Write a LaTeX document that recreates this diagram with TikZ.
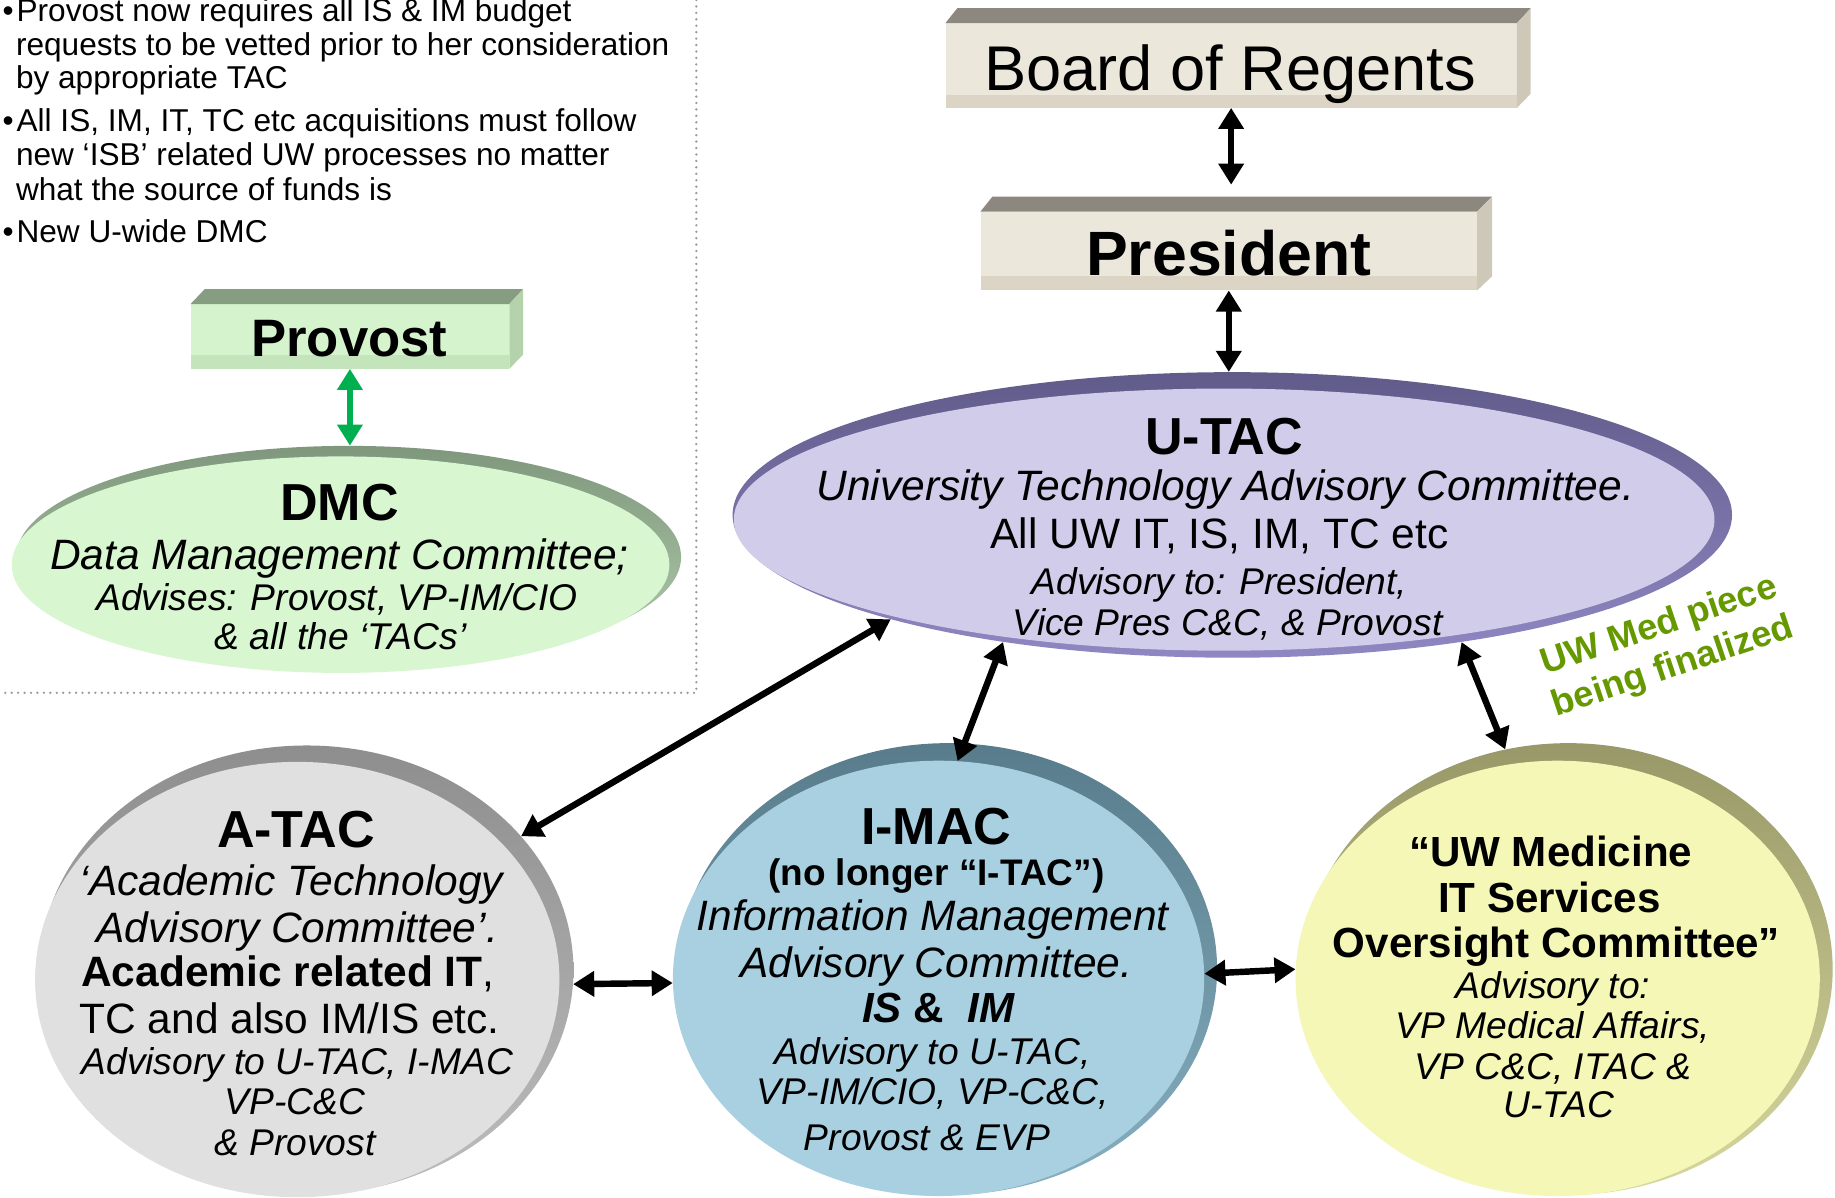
\documentclass[tikz,border=0pt]{standalone}
\usepackage{fontspec}
\setmainfont{Liberation Sans}
\usetikzlibrary{shapes.geometric,arrows.meta}
\definecolor{boxFront}{HTML}{ECE7DB}
\definecolor{boxTop}{HTML}{8C8880}
\definecolor{boxSide}{HTML}{CEC8B9}
\definecolor{boxStrip}{HTML}{DCD5C5}
\definecolor{provFront}{HTML}{D5F4CD}
\definecolor{provTop}{HTML}{879D82}
\definecolor{provSide}{HTML}{B4D3AC}
\definecolor{provStrip}{HTML}{C4E5BC}
\definecolor{dmcF}{HTML}{D8F6D0}
\definecolor{dmcRa}{HTML}{7F977C}
\definecolor{dmcRb}{HTML}{B4CCAE}
\definecolor{utacF}{HTML}{D1CCE9}
\definecolor{utacRa}{HTML}{615B8A}
\definecolor{utacRb}{HTML}{8E87C2}
\definecolor{atacF}{HTML}{E0E0E0}
\definecolor{atacRa}{HTML}{8E8E8E}
\definecolor{atacRb}{HTML}{BDBDBD}
\definecolor{imacF}{HTML}{A9D0E1}
\definecolor{imacRa}{HTML}{587C8B}
\definecolor{imacRb}{HTML}{86AFC0}
\definecolor{uwmF}{HTML}{F4F7B5}
\definecolor{uwmRa}{HTML}{989868}
\definecolor{uwmRb}{HTML}{D6D89E}
\definecolor{arrgreen}{HTML}{00B050}
\definecolor{medgreen}{HTML}{669900}
\definecolor{dotgrey}{HTML}{999999}
\begin{document}
\begin{tikzpicture}[x=1pt,y=-1pt,
 ell/.style={ellipse, inner sep=0pt, draw=none},
 tl/.style={inner sep=0pt, anchor=base},
 ttl/.style={tl, font=\fontsize{44.5}{50}\selectfont\bfseries},
 bi/.style={tl, font=\fontsize{36.3}{42}\selectfont\itshape},
 br/.style={tl, font=\fontsize{36.3}{42}\selectfont},
 bb/.style={tl, font=\fontsize{36}{42}\selectfont\bfseries},
 si/.style={tl, font=\fontsize{31.8}{36}\selectfont\itshape},
 sbd/.style={tl, font=\fontsize{31.6}{36}\selectfont\bfseries},
 blt/.style={inner sep=0pt, anchor=base west, font=\fontsize{27}{30}\selectfont},
 grn/.style={inner sep=0pt, align=center, text=medgreen, font=\fontsize{31}{37}\selectfont\bfseries, rotate=18.5},
 arr/.style={line width=5.5pt, {Triangle[length=18pt,width=21pt]}-{Triangle[length=18pt,width=21pt]}},
 garr/.style={line width=5.5pt, draw=arrgreen, {Triangle[length=18pt,width=21pt]}-{Triangle[length=18pt,width=21pt]}},
 dotline/.style={draw=dotgrey, line width=2.2pt, line cap=round, dash pattern=on 0pt off 5.5pt}]
\clip (0,0) rectangle (1568,1023);
\fill[white] (0,0) rectangle (1568,1023);

% dotted frame
\draw[dotline] (595,0) -- (595,592) -- (0,592);

% bullets
\node[blt] (b1d) at (2,18.5) {\textbullet};
\node[blt] (b1a) at (14,18.5) {Provost now requires all IS \& IM budget};
\node[blt] (b1b) at (13.5,47) {requests to be vetted prior to her consideration};
\node[blt] (b1c) at (13.5,76) {by appropriate TAC};
\node[blt] (b2d) at (2,112) {\textbullet};
\node[blt] (b2a) at (14,112) {All IS, IM, IT, TC etc acquisitions must follow};
\node[blt] (b2b) at (13.5,141) {new ‘ISB’ related UW processes no matter};
\node[blt] (b2c) at (13.5,171) {what the source of funds is};
\node[blt] (b3d) at (2,207.5) {\textbullet};
\node[blt] (b3a) at (14,207.5) {New U-wide DMC};

% Board of Regents box
\node[inner sep=0pt, minimum width=488, minimum height=72, fill=boxFront] (board) at (1052,56) {};
\fill[boxStrip] (808,81) rectangle (1296,92);
\fill[boxTop] (board.north west) -- (818,7) -- (1308,7) -- (board.north east) -- cycle;
\fill[boxSide] (board.north east) -- (1308,7) -- (1308,80) -- (board.south east) -- cycle;
\node[tl, font=\fontsize{54}{60}\selectfont] (boardT) at (1051,77) {Board of Regents};

% President box
\node[inner sep=0pt, minimum width=424, minimum height=67, fill=boxFront] (pres) at (1050,214.5) {};
\fill[boxStrip] (838,236) rectangle (1262,248);
\fill[boxTop] (pres.north west) -- (848,168) -- (1275,168) -- (pres.north east) -- cycle;
\fill[boxSide] (pres.north east) -- (1275,168) -- (1275,236) -- (pres.south east) -- cycle;
\node[tl, font=\fontsize{53.5}{60}\selectfont\bfseries] (presT) at (1050,235) {President};

% Provost box
\node[inner sep=0pt, minimum width=272, minimum height=55, fill=provFront] (prov) at (299,287.5) {};
\fill[provStrip] (163,303) rectangle (435,315);
\fill[provTop] (prov.north west) -- (175,247) -- (447,247) -- (prov.north east) -- cycle;
\fill[provSide] (prov.north east) -- (447,247) -- (447,303) -- (prov.south east) -- cycle;
\node[tl, font=\fontsize{45}{50}\selectfont\bfseries] (provT) at (298.5,305) {Provost};

% ellipses: rims then fills
\node[ell, top color=dmcRa, bottom color=dmcRb, minimum width=568, minimum height=190] (dmcR) at (298,476) {};
\node[ell, fill=dmcF, minimum width=562, minimum height=185] (dmc) at (291,482.5) {};
\node[ell, top color=utacRa, bottom color=utacRb, minimum width=854, minimum height=244] (utacR) at (1053,440) {};
\node[ell, fill=utacF, minimum width=838, minimum height=224] (utac) at (1046,444) {};
\node[ell, top color=atacRa, bottom color=atacRb, minimum width=456, minimum height=384] (atacR) at (262,829) {};
\node[ell, fill=atacF, minimum width=448, minimum height=372] (atac) at (254,837) {};
\node[ell, top color=imacRa, bottom color=imacRb, minimum width=460, minimum height=386] (imacR) at (810,828) {};
\node[ell, fill=imacF, minimum width=454, minimum height=372] (imac) at (802,836) {};
\node[ell, top color=uwmRa, bottom color=uwmRb, minimum width=452, minimum height=386] (uwmR) at (1340,828) {};
\node[ell, fill=uwmF, minimum width=448, minimum height=372] (uwm) at (1331,836) {};

% connectors
\draw[arr, shorten >=23pt] (board.south) -- (board.south |- pres.north);
\draw[arr] (pres.south) -- (pres.south |- utacR.north);
\draw[garr] (prov.south) -- (prov.south |- dmcR.north);
\draw[arr] (utacR.197) -- (atacR.32);
\draw[arr] (utacR.209) -- (imac.85);
\draw[arr] (utacR.331) -- (uwmR.106);
\draw[arr] (atacR.-3) -- (imac.181);
\draw[arr] (imac.1) -- (uwm.178);

% DMC text
\node[ttl] (dmc1) at (290,445) {DMC};
\node[bi] (dmc2) at (290,487) {Data Management Committee;};
\node[si] (dmc3) at (288,522) {Advises: Provost, VP-IM/CIO};
\node[si] (dmc4) at (291,555) {\& all the ‘TACs’};

% U-TAC text
\node[ttl] (ut1) at (1046,388) {U-TAC};
\node[bi] (ut2) at (1047,428) {University Technology Advisory Committee.};
\node[br] (ut3) at (1042,469) {All UW IT, IS, IM, TC etc};
\node[si] (ut4) at (1042,508) {Advisory to: President,};
\node[si] (ut5) at (1049,543) {Vice Pres C\&C, \& Provost};

% A-TAC text
\node[ttl] (at1) at (253,724) {A-TAC};
\node[bi] (at2) at (249,765) {‘Academic Technology};
\node[bi] (at3) at (254,805) {Advisory Committee’.};
\node[br] (at4) at (246,843) {\textbf{Academic related IT},};
\node[br] (at5) at (247.5,883) {TC and also IM/IS etc.};
\node[si] (at6) at (254,918) {Advisory to U-TAC, I-MAC};
\node[si] (at7) at (252,952) {VP-C\&C};
\node[si] (at8) at (252,987) {\& Provost};

% I-MAC text
\node[ttl] (im1) at (800,722) {I-MAC};
\node[sbd] (im2) at (800,757) {(no longer “I-TAC”)};
\node[bi] (im3) at (797,795) {Information Management};
\node[bi] (im4) at (800,835) {Advisory Committee.};
\node[bb] (im5) at (802,874) {\textit{IS} \& \ \textit{IM}};
\node[si] (im6) at (797,910) {Advisory to U-TAC,};
\node[si] (im7) at (797,944) {VP-IM/CIO, VP-C\&C,};
\node[si] (im8) at (792,983) {Provost \& EVP};

% UW Medicine text
\node[bb] (uw1) at (1325,740) {“UW Medicine};
\node[bb] (uw2) at (1324,780) {IT Services};
\node[bb] (uw3) at (1330,818) {Oversight Committee”};
\node[si] (uw4) at (1327,853) {Advisory to:};
\node[si] (uw5) at (1327,887) {VP Medical Affairs,};
\node[si] (uw6) at (1327,922) {VP C\&C, ITAC \&};
\node[si] (uw7) at (1332,955) {U-TAC};

% green note
\node[grn] (med) at (1424,553) {UW Med piece\\being finalized};
\end{tikzpicture}
\end{document}
